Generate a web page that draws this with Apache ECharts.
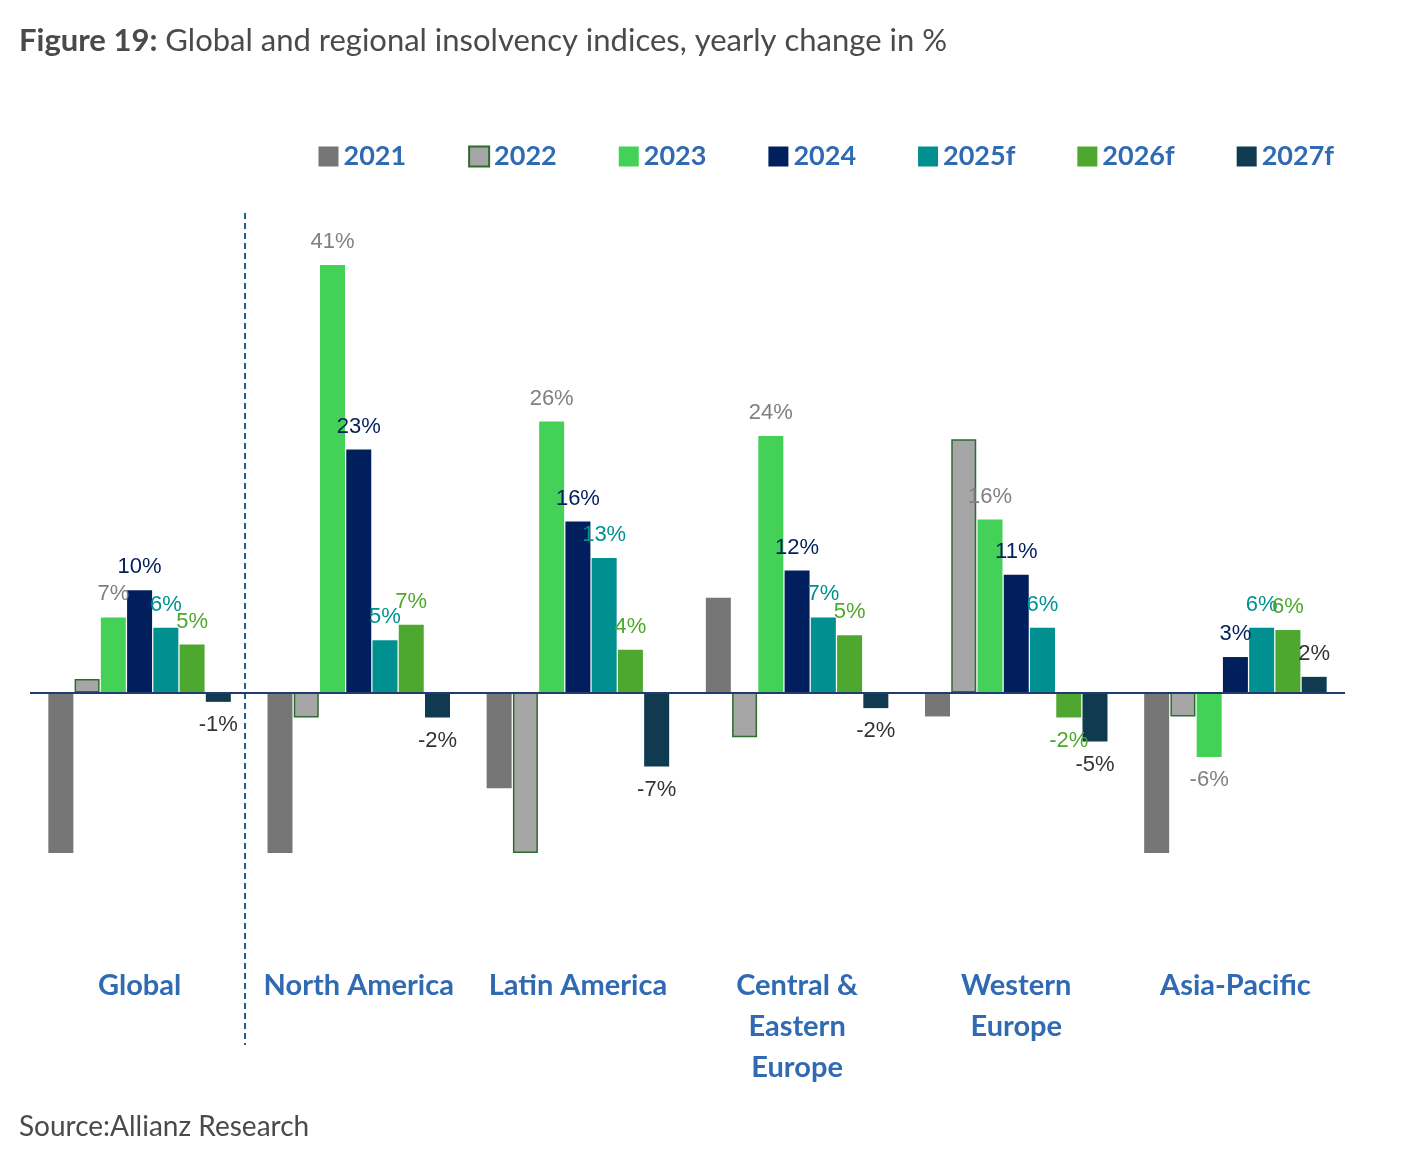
<!DOCTYPE html>
<html>
<head>
<meta charset="utf-8">
<script src="https://cdn.jsdelivr.net/npm/echarts@6/dist/echarts.min.js"></script>
<style>
  html, body { margin: 0; padding: 0; background: #fff; }
  #container { width: 1401px; height: 1151px; }
</style>
</head>
<body>
<div id="container"></div>
<script>
var regions = ['Global', 'North America', 'Latin America', 'Central &\nEastern\nEurope', 'Western\nEurope', 'Asia-Pacific'];
var years = ['2021', '2022', '2023', '2024', '2025f', '2026f', '2027f'];

// bar heights (clipped bars at the axis floor)
var v2021 = [-15.4, -15.4, -9.2, 9.1, -2.3, -15.4];
var v2022 = [1.3, -2.4, -15.4, -4.3, 24.3, -2.3];
var v2023 = [7.2, 41, 26, 24.6, 16.6, -6.2];
var v2024 = [9.8, 23.3, 16.4, 11.7, 11.3, 3.4];
var v2025 = [6.2, 5, 12.9, 7.2, 6.2, 6.2];
var v2026 = [4.6, 6.5, 4.1, 5.5, -2.4, 6];
var v2027 = [-0.9, -2.4, -7.1, -1.5, -4.7, 1.5];

// printed labels (null = no label)
var l2021 = [null, null, null, null, null, null];
var l2022 = [null, null, null, null, null, null];
var l2023 = ['7%', '41%', '26%', '24%', '16%', '-6%'];
var l2024 = ['10%', '23%', '16%', '12%', '11%', '3%'];
var l2025 = ['6%', '5%', '13%', '7%', '6%', '6%'];
var l2026 = ['5%', '7%', '4%', '5%', '-2%', '6%'];
var l2027 = ['-1%', '-2%', '-7%', '-2%', '-5%', '2%'];

var colors = ['#767676', '#a6a6a6', '#43d158', '#001f5c', '#009090', '#4ea72e', '#0f3a50'];
var labelColors = ['#808080', '#808080', '#808080', '#001f5c', '#009090', '#4ea72e', '#333333'];
var values = [v2021, v2022, v2023, v2024, v2025, v2026, v2027];
var labels = [l2021, l2022, l2023, l2024, l2025, l2026, l2027];

var myChart = echarts.init(document.getElementById('container'));

var series = years.map(function (y, i) {
    return {
        name: y,
        type: 'bar',
        barWidth: 25,
        barGap: '5%',
        itemStyle: i === 1 ? { color: colors[i], borderColor: '#2e6b2e', borderWidth: 1.5 } : { color: colors[i] },
        data: values[i].map(function (v, j) {
            var t = labels[i][j];
            return {
                value: v,
                label: {
                    show: t !== null,
                    position: v < 0 ? 'bottom' : 'top',
                    distance: 12,
                    formatter: t || '',
                    color: labelColors[i],
                    fontSize: 22,
                    fontFamily: 'Liberation Sans'
                }
            };
        })
    };
});

var option = {
    animation: false,
    title: [{
        left: 14, top: 20,
        text: '{b|Figure 19:} Global and regional insolvency indices, yearly change in %',
        textStyle: {
            fontSize: 31, fontWeight: 'normal', color: '#4a4a4a', fontFamily: 'Lato',
            rich: { b: { fontSize: 31, fontWeight: 'bold', color: '#4a4a4a', fontFamily: 'Lato' } }
        }
    }, {
        left: 14, top: 1108,
        text: 'Source:Allianz Research',
        textStyle: { fontSize: 28, fontWeight: 'normal', color: '#4a4a4a', fontFamily: 'Lato' }
    }],
    legend: {
        right: 62, top: 138,
        itemWidth: 20, itemHeight: 20, itemGap: 62,
        icon: 'rect',
        textStyle: { fontSize: 27, fontWeight: 'bold', color: '#2f6ab3', fontFamily: 'Lato' },
        data: years
    },
    grid: { left: 30, right: 56, top: 213, bottom: 298 },
    xAxis: {
        type: 'category',
        data: regions,
        axisLine: { show: false },
        axisTick: { show: false },
        axisLabel: {
            margin: 112, fontSize: 29, fontWeight: 'bold', color: '#2f6ab3',
            fontFamily: 'Lato', lineHeight: 41, interval: 0, verticalAlign: 'top'
        }
    },
    yAxis: {
        type: 'value', min: -15.4, max: 46,
        axisLabel: { show: false }, axisTick: { show: false },
        axisLine: { show: false }, splitLine: { show: false }
    },
    graphic: [{
        type: 'line',
        shape: { x1: 245, y1: 213, x2: 245, y2: 1045 },
        style: { stroke: '#1f5f85', lineWidth: 2, lineDash: [6, 4] }
    }],
    series: series.concat([{
        type: 'line', data: [], silent: true,
        markLine: {
            symbol: 'none', silent: true, label: { show: false },
            lineStyle: { color: '#1f3b70', width: 2, type: 'solid' },
            data: [{ yAxis: 0 }]
        }
    }])
};

myChart.setOption(option);
</script>
</body>
</html>
